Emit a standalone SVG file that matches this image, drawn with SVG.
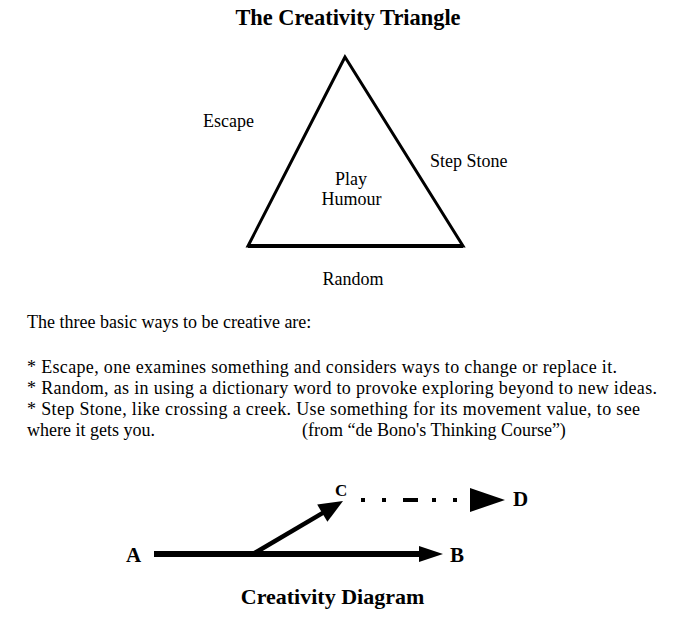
<svg xmlns="http://www.w3.org/2000/svg" width="680" height="618" viewBox="0 0 680 618">
<style>
.t{font-family:"Liberation Serif","Times New Roman",serif;font-size:18px;fill:#000}
.b{font-family:"Liberation Serif","Times New Roman",serif;font-weight:bold;fill:#000}
.ln{stroke:#000;fill:none}
.hd{fill:#000;stroke:none}
</style>
<rect width="680" height="618" fill="#fff"/>
<text class="b" x="348" y="25" font-size="22.4" text-anchor="middle">The Creativity Triangle</text>
<g id="triangle">
<polygon points="345,57 248,246 463,246" fill="none" stroke="#000" stroke-width="3" stroke-linejoin="miter"/>
<line x1="248" y1="246" x2="463" y2="246" stroke="#000" stroke-width="4"/>
<text class="t" x="351" y="185" text-anchor="middle">Play</text>
<text class="t" x="351.5" y="205" text-anchor="middle">Humour</text>
</g>
<g id="escape"><text class="t" x="203" y="127">Escape</text></g>
<g id="stepstone"><text class="t" x="430" y="167">Step Stone</text></g>
<g id="random"><text class="t" x="353" y="285" text-anchor="middle">Random</text></g>
<g id="body">
<text class="t" x="27" y="328">The three basic ways to be creative are:</text>
<text class="t" x="27" y="373" textLength="590" lengthAdjust="spacing">* Escape, one examines something and considers ways to change or replace it.</text>
<text class="t" x="27" y="394" textLength="630" lengthAdjust="spacing">* Random, as in using a dictionary word to provoke exploring beyond to new ideas.</text>
<text class="t" x="27" y="415" textLength="613" lengthAdjust="spacing">* Step Stone, like crossing a creek. Use something for its movement value, to see</text>
<text class="t" x="27" y="436">where it gets you.</text>
<text class="t" x="302" y="436">(from “de Bono's Thinking Course”)</text>
</g>
<g id="nodeA"><text class="b" x="126" y="562" font-size="21">A</text></g>
<g id="nodeB"><text class="b" x="450" y="562" font-size="21">B</text></g>
<g id="nodeC"><text class="b" x="335" y="496" font-size="17">C</text></g>
<g id="nodeD"><text class="b" x="513" y="506" font-size="21">D</text></g>
<g id="connectors">
<line class="ln" x1="154" y1="554" x2="424" y2="554" stroke-width="6"/>
<polygon class="hd" points="419,546 443,554 419,562"/>
<line class="ln" x1="253" y1="554" x2="325" y2="511.6" stroke-width="4.5"/>
<polygon class="hd" points="327.4,521.8 343,501 317.2,504.6"/>
<path class="ln" d="M361,500 H470" stroke-width="4" stroke-dasharray="4 17 4 17 15 14 4 17 4 30"/>
<polygon class="hd" points="470,488 505,500 470,512"/>
</g>
<text class="b" x="332.5" y="604" font-size="22" text-anchor="middle">Creativity Diagram</text>
</svg>
